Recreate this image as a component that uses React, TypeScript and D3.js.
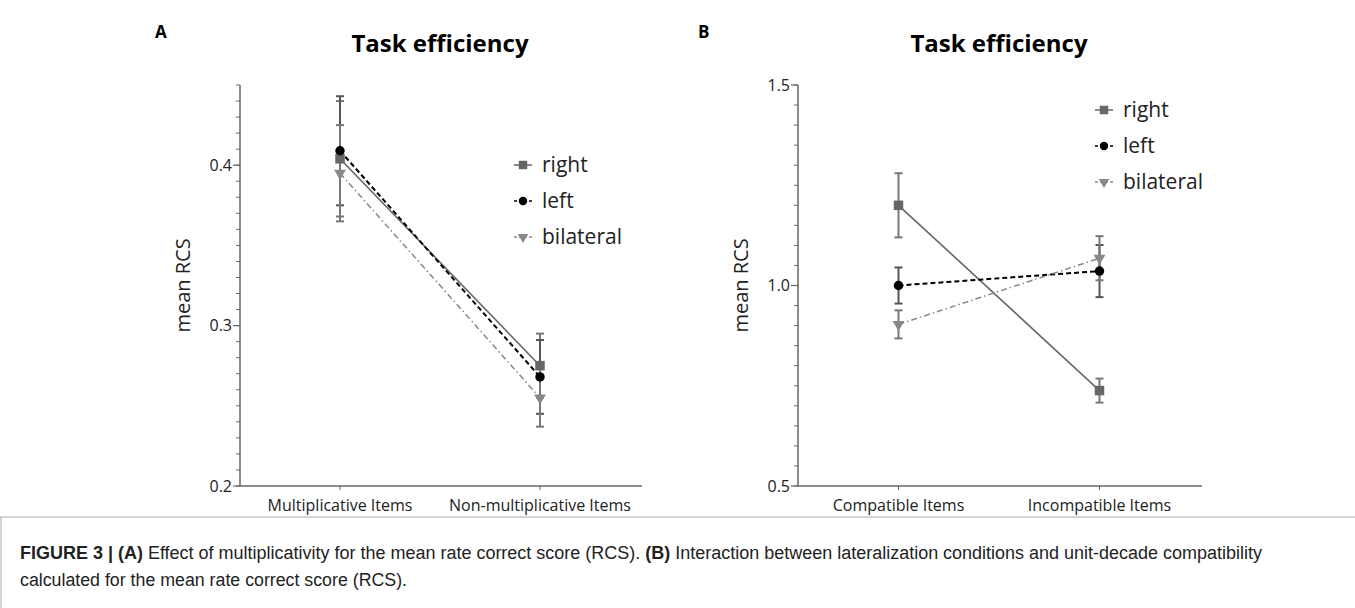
import * as d3 from "d3";

// categories and tick labels
const categoriesA = ["Multiplicative Items", "Non-multiplicative Items"];
const categoriesB = ["Compatible Items", "Incompatible Items"];
const seriesNames = ["right", "left", "bilateral"];
const yTicksA = [0.2, 0.3, 0.4];
const yTicksB = [0.5, 1.0, 1.5];

// panel A values (mean RCS) and error half-widths
const rightA = [0.404, 0.275];
const leftA = [0.409, 0.268];
const bilateralA = [0.395, 0.255];
const errRightA = [0.036, 0.02];
const errLeftA = [0.034, 0.023];
const errBilateralA = [0.03, 0.018];

// panel B values
const rightB = [1.2, 0.738];
const leftB = [1.0, 1.036];
const bilateralB = [0.903, 1.068];
const errRightB = [0.08, 0.03];
const errLeftB = [0.045, 0.065];
const errBilateralB = [0.035, 0.055];

const FONT = "'Open Sans', 'Noto Sans', sans-serif";
const CAPTION_FONT = "'Liberation Sans Narrow', 'Liberation Sans', Arial, sans-serif";
const AXIS = "#666";

const styles = {
  right: { color: "#666", dash: null, width: 1.6, symbol: d3.symbolSquare, size: 90, rot: 0 },
  left: { color: "#000", dash: "5,3", width: 2, symbol: d3.symbolCircle, size: 70, rot: 0 },
  bilateral: { color: "#888", dash: "6,3,1.5,3", width: 1.5, symbol: d3.symbolTriangle, size: 60, rot: 180 },
};

function Panel({ letter, letterX, left, top, width, height, categories, domain, ticks, minorStep, fmt, series, legendX, legendY }) {
  const x = d3.scalePoint().domain(categories).range([left, left + width]).padding(0.5);
  const y = d3.scaleLinear().domain(domain).range([top + height, top]);
  const minor = d3.range(domain[0], domain[1] + minorStep / 2, minorStep);
  const bottom = top + height;

  return (
    <g>
      <text x={letterX} y={38} fontFamily={FONT} fontWeight="bold" fontSize={17}>{letter}</text>
      <text x={left + width / 2} y={52} textAnchor="middle" fontFamily={FONT} fontWeight="bold" fontSize={24}>
        Task efficiency
      </text>

      {/* y axis */}
      <line x1={left} x2={left} y1={top} y2={bottom} stroke={AXIS} strokeWidth={1.5} />
      {minor.map((v, i) => (
        <line key={i} x1={left - 4} x2={left} y1={y(v)} y2={y(v)} stroke={AXIS} strokeWidth={1} />
      ))}
      {ticks.map((v) => (
        <g key={v}>
          <line x1={left - 7} x2={left} y1={y(v)} y2={y(v)} stroke={AXIS} strokeWidth={1.2} />
          <text x={left - 8} y={y(v)} dy="0.35em" textAnchor="end" fontFamily={FONT} fontSize={16} fill="#222">
            {fmt(v)}
          </text>
        </g>
      ))}
      <text
        transform={`translate(${left - 50},${top + height / 2}) rotate(-90)`}
        textAnchor="middle"
        fontFamily={FONT}
        fontSize={20}
        fill="#222"
      >
        mean RCS
      </text>

      {/* x axis */}
      <line x1={left} x2={left + width + 2} y1={bottom} y2={bottom} stroke={AXIS} strokeWidth={1.5} />
      {categories.map((c) => (
        <g key={c}>
          <line x1={x(c)} x2={x(c)} y1={bottom} y2={bottom + 4} stroke={AXIS} strokeWidth={1} />
          <text x={x(c)} y={bottom + 25} textAnchor="middle" fontFamily={FONT} fontSize={16} fill="#222">
            {c}
          </text>
        </g>
      ))}

      {/* error bars */}
      {series.map((s) =>
        s.values.map((v, i) => {
          const cx = x(categories[i]);
          const y1 = y(v + s.err[i]);
          const y2 = y(v - s.err[i]);
          const col = s.name === "left" ? "#555" : "#777";
          return (
            <g key={s.name + i} stroke={col} strokeWidth={2}>
              <line x1={cx} x2={cx} y1={y1} y2={y2} />
              <line x1={cx - 4} x2={cx + 4} y1={y1} y2={y1} />
              <line x1={cx - 4} x2={cx + 4} y1={y2} y2={y2} />
            </g>
          );
        })
      )}

      {/* lines */}
      {series.map((s) => {
        const st = styles[s.name];
        const line = d3
          .line()
          .x((d, i) => x(categories[i]))
          .y((d) => y(d));
        return (
          <path
            key={s.name}
            d={line(s.values)}
            fill="none"
            stroke={st.color}
            strokeWidth={st.width}
            strokeDasharray={st.dash || undefined}
          />
        );
      })}

      {/* markers */}
      {series.map((s) => {
        const st = styles[s.name];
        const sym = d3.symbol().type(st.symbol).size(st.size)();
        return s.values.map((v, i) => (
          <path
            key={s.name + "m" + i}
            d={sym}
            fill={st.color}
            transform={`translate(${x(categories[i])},${y(v)}) rotate(${st.rot})`}
          />
        ));
      })}

      {/* legend */}
      {seriesNames.map((n, i) => {
        const st = styles[n];
        const ly = legendY + i * 36;
        const sym = d3.symbol().type(st.symbol).size(st.size * 0.8)();
        return (
          <g key={n}>
            <line x1={legendX - 9} x2={legendX + 9} y1={ly} y2={ly} stroke={st.color} strokeWidth={1.5} strokeDasharray={st.dash ? "3,2" : undefined} />
            <path d={sym} fill={st.color} transform={`translate(${legendX},${ly}) rotate(${st.rot})`} />
            <text x={legendX + 19} y={ly} dy="0.35em" fontFamily={FONT} fontSize={21} fill="#222">
              {n}
            </text>
          </g>
        );
      })}
    </g>
  );
}

export default function App() {
  const seriesA = [
    { name: "right", values: rightA, err: errRightA },
    { name: "left", values: leftA, err: errLeftA },
    { name: "bilateral", values: bilateralA, err: errBilateralA },
  ];
  const seriesB = [
    { name: "right", values: rightB, err: errRightB },
    { name: "left", values: leftB, err: errLeftB },
    { name: "bilateral", values: bilateralB, err: errBilateralB },
  ];

  return (
    <svg width={1355} height={608} style={{ position: "absolute", left: 0, top: 0, background: "#fff" }}>
      <Panel
        letter="A"
        letterX={155}
        left={240}
        top={85}
        width={400}
        height={401}
        categories={categoriesA}
        domain={[0.2, 0.45]}
        ticks={yTicksA}
        minorStep={0.01}
        fmt={d3.format(".1f")}
        series={seriesA}
        legendX={523}
        legendY={165}
      />
      <Panel
        letter="B"
        letterX={698}
        left={798}
        top={85}
        width={402}
        height={401}
        categories={categoriesB}
        domain={[0.5, 1.5]}
        ticks={yTicksB}
        minorStep={0.05}
        fmt={d3.format(".1f")}
        series={seriesB}
        legendX={1104}
        legendY={110}
      />

      {/* caption box */}
      <line x1={0} x2={1355} y1={517} y2={517} stroke="#aaa" strokeWidth={1} />
      <line x1={1} x2={1} y1={517} y2={608} stroke="#aaa" strokeWidth={1} />
      <text x={20} y={559} fontFamily={CAPTION_FONT} fontSize={18} fill="#222" textLength={1242} lengthAdjust="spacingAndGlyphs">
        <tspan fontWeight="bold">FIGURE 3 | (A)</tspan>
        <tspan> Effect of multiplicativity for the mean rate correct score (RCS). </tspan>
        <tspan fontWeight="bold">(B)</tspan>
        <tspan> Interaction between lateralization conditions and unit-decade compatibility</tspan>
      </text>
      <text x={20} y={586} fontFamily={CAPTION_FONT} fontSize={18} fill="#222" textLength={387} lengthAdjust="spacingAndGlyphs">
        calculated for the mean rate correct score (RCS).
      </text>
    </svg>
  );
}
